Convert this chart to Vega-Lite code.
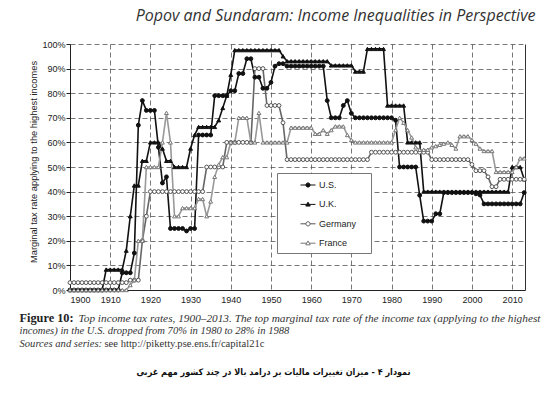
{
  "$schema": "https://vega.github.io/schema/vega-lite/v6.json",
  "width": 455,
  "height": 246,
  "autosize": {"type": "none"},
  "padding": {"left": 70, "top": 44, "right": 25, "bottom": 103},
  "background": "white",
  "view": {"stroke": null},
  "title": {
    "text": "نمودار ۴ - میزان تغییرات مالیات بر درامد بالا در چند کشور مهم غربی",
    "orient": "bottom",
    "anchor": "middle",
    "frame": "group",
    "dx": -24,
    "offset": 19,
    "font": "DejaVu Sans Condensed, DejaVu Sans",
    "fontSize": 9,
    "fontWeight": "bold",
    "color": "#111"
  },
  "data": {
    "values": [
      {"year":1900,"US":0,"UK":0,"Germany":3,"France":0},
      {"year":1901,"US":0,"UK":0,"Germany":3,"France":0},
      {"year":1902,"US":0,"UK":0,"Germany":3,"France":0},
      {"year":1903,"US":0,"UK":0,"Germany":3,"France":0},
      {"year":1904,"US":0,"UK":0,"Germany":3,"France":0},
      {"year":1905,"US":0,"UK":0,"Germany":3,"France":0},
      {"year":1906,"US":0,"UK":0,"Germany":3,"France":0},
      {"year":1907,"US":0,"UK":0,"Germany":3,"France":0},
      {"year":1908,"US":0,"UK":0,"Germany":3,"France":0},
      {"year":1909,"US":0,"UK":8.3,"Germany":3,"France":0},
      {"year":1910,"US":0,"UK":8.3,"Germany":3,"France":0},
      {"year":1911,"US":0,"UK":8.3,"Germany":3,"France":0},
      {"year":1912,"US":0,"UK":8.3,"Germany":3,"France":0},
      {"year":1913,"US":7,"UK":8.3,"Germany":3,"France":0},
      {"year":1914,"US":7,"UK":16,"Germany":3,"France":0},
      {"year":1915,"US":7,"UK":30,"Germany":4,"France":2},
      {"year":1916,"US":15,"UK":42.5,"Germany":4,"France":4},
      {"year":1917,"US":67,"UK":42.5,"Germany":4,"France":20},
      {"year":1918,"US":77,"UK":52.5,"Germany":20,"France":20},
      {"year":1919,"US":73,"UK":52.5,"Germany":30,"France":50},
      {"year":1920,"US":73,"UK":60,"Germany":40,"France":50},
      {"year":1921,"US":73,"UK":60,"Germany":40,"France":50},
      {"year":1922,"US":58,"UK":60,"Germany":40,"France":50},
      {"year":1923,"US":43.5,"UK":57.5,"Germany":40,"France":60},
      {"year":1924,"US":46,"UK":52.5,"Germany":40,"France":72},
      {"year":1925,"US":25,"UK":52.5,"Germany":40,"France":60},
      {"year":1926,"US":25,"UK":50,"Germany":40,"France":30},
      {"year":1927,"US":25,"UK":50,"Germany":40,"France":30},
      {"year":1928,"US":25,"UK":50,"Germany":40,"France":33.3},
      {"year":1929,"US":24,"UK":50,"Germany":40,"France":33.3},
      {"year":1930,"US":25,"UK":57.5,"Germany":40,"France":33.3},
      {"year":1931,"US":25,"UK":63,"Germany":40,"France":33.3},
      {"year":1932,"US":63,"UK":66.3,"Germany":40,"France":37},
      {"year":1933,"US":63,"UK":66.3,"Germany":40,"France":37},
      {"year":1934,"US":63,"UK":66.3,"Germany":50,"France":30},
      {"year":1935,"US":63,"UK":66.3,"Germany":50,"France":36},
      {"year":1936,"US":79,"UK":66.3,"Germany":50,"France":46},
      {"year":1937,"US":79,"UK":69,"Germany":50,"France":51},
      {"year":1938,"US":79,"UK":74,"Germany":50,"France":54},
      {"year":1939,"US":79,"UK":79,"Germany":60,"France":54},
      {"year":1940,"US":81,"UK":87.5,"Germany":60,"France":60},
      {"year":1941,"US":81,"UK":97.5,"Germany":60,"France":60},
      {"year":1942,"US":88,"UK":97.5,"Germany":60,"France":70},
      {"year":1943,"US":88,"UK":97.5,"Germany":60,"France":70},
      {"year":1944,"US":94,"UK":97.5,"Germany":60,"France":70},
      {"year":1945,"US":94,"UK":97.5,"Germany":60,"France":60},
      {"year":1946,"US":86.5,"UK":97.5,"Germany":90,"France":60},
      {"year":1947,"US":86.5,"UK":97.5,"Germany":90,"France":72},
      {"year":1948,"US":82,"UK":97.5,"Germany":90,"France":60},
      {"year":1949,"US":82,"UK":97.5,"Germany":75,"France":60},
      {"year":1950,"US":84.4,"UK":97.5,"Germany":75,"France":60},
      {"year":1951,"US":91,"UK":97.5,"Germany":75,"France":60},
      {"year":1952,"US":92,"UK":97.5,"Germany":75,"France":60},
      {"year":1953,"US":92,"UK":95,"Germany":68,"France":60},
      {"year":1954,"US":91,"UK":93,"Germany":53,"France":60},
      {"year":1955,"US":91,"UK":93,"Germany":53,"France":66},
      {"year":1956,"US":91,"UK":93,"Germany":53,"France":66},
      {"year":1957,"US":91,"UK":93,"Germany":53,"France":66},
      {"year":1958,"US":91,"UK":93,"Germany":53,"France":66},
      {"year":1959,"US":91,"UK":93,"Germany":53,"France":66},
      {"year":1960,"US":91,"UK":93,"Germany":53,"France":66},
      {"year":1961,"US":91,"UK":93,"Germany":53,"France":63.5},
      {"year":1962,"US":91,"UK":93,"Germany":53,"France":63.5},
      {"year":1963,"US":91,"UK":93,"Germany":53,"France":65},
      {"year":1964,"US":77,"UK":93,"Germany":53,"France":63.5},
      {"year":1965,"US":70,"UK":91.3,"Germany":53,"France":65},
      {"year":1966,"US":70,"UK":91.3,"Germany":53,"France":66.5},
      {"year":1967,"US":70,"UK":91.3,"Germany":53,"France":66.5},
      {"year":1968,"US":75,"UK":91.3,"Germany":53,"France":66.5},
      {"year":1969,"US":77,"UK":91.3,"Germany":53,"France":63},
      {"year":1970,"US":71.8,"UK":91.3,"Germany":53,"France":61},
      {"year":1971,"US":70,"UK":88.8,"Germany":53,"France":60},
      {"year":1972,"US":70,"UK":88.8,"Germany":53,"France":60},
      {"year":1973,"US":70,"UK":88.8,"Germany":53,"France":60},
      {"year":1974,"US":70,"UK":98,"Germany":53,"France":60},
      {"year":1975,"US":70,"UK":98,"Germany":56,"France":60},
      {"year":1976,"US":70,"UK":98,"Germany":56,"France":60},
      {"year":1977,"US":70,"UK":98,"Germany":56,"France":60},
      {"year":1978,"US":70,"UK":98,"Germany":56,"France":60},
      {"year":1979,"US":70,"UK":75,"Germany":56,"France":60},
      {"year":1980,"US":70,"UK":75,"Germany":56,"France":60},
      {"year":1981,"US":69,"UK":75,"Germany":56,"France":65},
      {"year":1982,"US":50,"UK":75,"Germany":56,"France":70},
      {"year":1983,"US":50,"UK":75,"Germany":56,"France":68},
      {"year":1984,"US":50,"UK":60,"Germany":56,"France":65},
      {"year":1985,"US":50,"UK":60,"Germany":56,"France":62},
      {"year":1986,"US":50,"UK":60,"Germany":56,"France":58},
      {"year":1987,"US":38.5,"UK":60,"Germany":56,"France":57},
      {"year":1988,"US":28,"UK":40,"Germany":56,"France":57},
      {"year":1989,"US":28,"UK":40,"Germany":56,"France":57},
      {"year":1990,"US":28,"UK":40,"Germany":53,"France":58},
      {"year":1991,"US":31,"UK":40,"Germany":53,"France":58.5},
      {"year":1992,"US":31,"UK":40,"Germany":53,"France":59},
      {"year":1993,"US":39.6,"UK":40,"Germany":53,"France":59.5},
      {"year":1994,"US":39.6,"UK":40,"Germany":53,"France":60},
      {"year":1995,"US":39.6,"UK":40,"Germany":53,"France":59},
      {"year":1996,"US":39.6,"UK":40,"Germany":53,"France":57.5},
      {"year":1997,"US":39.6,"UK":40,"Germany":53,"France":62.5},
      {"year":1998,"US":39.6,"UK":40,"Germany":53,"France":62.5},
      {"year":1999,"US":39.6,"UK":40,"Germany":53,"France":62.5},
      {"year":2000,"US":39.6,"UK":40,"Germany":51,"France":61},
      {"year":2001,"US":39.1,"UK":40,"Germany":48.5,"France":59.5},
      {"year":2002,"US":38.6,"UK":40,"Germany":48.5,"France":57.5},
      {"year":2003,"US":35,"UK":40,"Germany":48.5,"France":56.5},
      {"year":2004,"US":35,"UK":40,"Germany":46,"France":56.5},
      {"year":2005,"US":35,"UK":40,"Germany":42,"France":56.5},
      {"year":2006,"US":35,"UK":40,"Germany":42,"France":48},
      {"year":2007,"US":35,"UK":40,"Germany":45,"France":48},
      {"year":2008,"US":35,"UK":40,"Germany":45,"France":48},
      {"year":2009,"US":35,"UK":40,"Germany":45,"France":48},
      {"year":2010,"US":35,"UK":50,"Germany":45,"France":48},
      {"year":2011,"US":35,"UK":50,"Germany":45,"France":50},
      {"year":2012,"US":35,"UK":50,"Germany":45,"France":53.5},
      {"year":2013,"US":39.6,"UK":45,"Germany":45,"France":53.5}
    ]
  },
  "transform": [{"fold": ["US", "UK", "Germany", "France"], "as": ["series", "rate"]}],
  "layer": [
    {
      "mark": {"type": "line", "interpolate": "linear"},
      "encoding": {
        "x": {
          "field": "year", "type": "quantitative",
          "scale": {"domain": [1900, 2013.2], "nice": false, "zero": false},
          "axis": {
            "orient": "bottom",
            "values": [1900,1910,1920,1930,1940,1950,1960,1970,1980,1990,2000,2010],
            "format": "d",
            "grid": true, "gridDash": [5, 3], "gridColor": "#555", "gridWidth": 0.8,
            "domain": true, "domainColor": "#222", "domainWidth": 1,
            "ticks": false,
            "labelFont": "Liberation Sans", "labelFontSize": 9, "labelColor": "#222", "labelPadding": 5,
            "title": ["incomes) in the U.S. dropped from 70% in 1980 to 28% in 1988", "Sources and series:"],
            "titleX": -51, "titleY": 43.5,
            "titleAlign": "left", "titleBaseline": "alphabetic", "titleAngle": 0,
            "titleLineHeight": 12.5,
            "titleFont": "Liberation Serif", "titleFontStyle": "italic", "titleFontWeight": "normal",
            "titleFontSize": 10.6, "titleColor": "#333"
          }
        },
        "y": {
          "field": "rate", "type": "quantitative",
          "scale": {"domain": [0, 100], "nice": false},
          "axis": {
            "orient": "left",
            "values": [0,10,20,30,40,50,60,70,80,90,100],
            "labelExpr": "datum.value + '%'",
            "grid": true, "gridDash": [5, 3], "gridColor": "#555", "gridWidth": 0.8,
            "domain": true, "domainColor": "#222", "domainWidth": 1,
            "ticks": true, "tickSize": 4, "tickColor": "#222",
            "labelFont": "Liberation Sans", "labelFontSize": 9, "labelColor": "#222", "labelPadding": 1,
            "title": "Marginal tax rate applying to the highest incomes",
            "titleX": -37, "titleY": 117.5, "titleAngle": 270,
            "titleAlign": "center", "titleBaseline": "middle",
            "titleFont": "Liberation Sans", "titleFontSize": 9.3, "titleFontWeight": "normal", "titleColor": "#222"
          }
        },
        "color": {
          "field": "series", "type": "nominal",
          "scale": {"domain": ["UK", "US", "Germany", "France"], "range": ["#111", "#111", "#666", "#999"]},
          "legend": null
        },
        "strokeWidth": {
          "field": "series", "type": "nominal",
          "scale": {"domain": ["UK", "US", "Germany", "France"], "range": [1.6, 1.6, 1, 1]},
          "legend": null
        }
      }
    },
    {
      "mark": {"type": "point", "size": 15, "strokeWidth": 1, "opacity": 1},
      "encoding": {
        "x": {
          "field": "year", "type": "quantitative",
          "axis": {
            "orient": "top", "labels": false, "ticks": false, "domain": false, "grid": false,
            "title": "Popov and Sundaram: Income Inequalities in Perspective",
            "titleX": 465, "titleY": -24, "titleAlign": "right", "titleBaseline": "alphabetic", "titleAngle": 0,
            "titleFont": "Open Sans", "titleFontStyle": "italic", "titleFontWeight": "normal",
            "titleFontSize": 16, "titleColor": "#333"
          }
        },
        "y": {
          "field": "rate", "type": "quantitative",
          "axis": {
            "orient": "right", "labels": false, "ticks": false, "grid": false,
            "domain": true, "domainColor": "#333", "domainWidth": 1,
            "title": "Figure 10:",
            "titleX": -506, "titleY": 277, "titleAngle": 0,
            "titleAlign": "left", "titleBaseline": "alphabetic",
            "titleFont": "Liberation Serif", "titleFontWeight": "bold", "titleFontSize": 12.3, "titleColor": "#222"
          }
        },
        "shape": {
          "field": "series", "type": "nominal",
          "scale": {"domain": ["UK", "US", "Germany", "France"], "range": ["triangle-up", "circle", "circle", "triangle-up"]},
          "legend": null
        },
        "fill": {
          "field": "series", "type": "nominal",
          "scale": {"domain": ["UK", "US", "Germany", "France"], "range": ["#111", "#111", "#fff", "#fff"]},
          "legend": null
        },
        "stroke": {
          "field": "series", "type": "nominal",
          "scale": {"domain": ["UK", "US", "Germany", "France"], "range": ["#111", "#111", "#555", "#777"]},
          "legend": null
        }
      }
    },
    {
      "transform": [{"filter": "false"}],
      "mark": {"type": "point", "opacity": 1, "strokeWidth": 1},
      "encoding": {
        "x": {
          "field": "year", "type": "quantitative",
          "axis": {
            "orient": "top", "labels": false, "ticks": false, "domain": false, "grid": false,
            "title": "Top income tax rates, 1900\u20132013. The top marginal tax rate of the income tax (applying to the highest",
            "titleX": 8, "titleY": 277, "titleAlign": "left", "titleBaseline": "alphabetic", "titleAngle": 0,
            "titleFont": "Liberation Serif", "titleFontStyle": "italic", "titleFontWeight": "normal",
            "titleFontSize": 11.3, "titleColor": "#333"
          }
        },
        "y": {
          "field": "rate", "type": "quantitative",
          "axis": {
            "orient": "right", "labels": false, "ticks": false, "domain": false, "grid": false,
            "title": "see http://piketty.pse.ens.fr/capital21c",
            "titleX": -421, "titleY": 302, "titleAngle": 0,
            "titleAlign": "left", "titleBaseline": "alphabetic",
            "titleFont": "Liberation Serif", "titleFontStyle": "normal", "titleFontWeight": "normal",
            "titleFontSize": 10.6, "titleColor": "#333"
          }
        },
        "shape": {
          "field": "series", "type": "nominal",
          "scale": {
            "domain": ["US", "UK", "Germany", "France"],
            "range": [
              "M-1,0H-0.28M0.28,0H1M0.28,0A0.28,0.28,0,1,1,-0.28,0A0.28,0.28,0,1,1,0.28,0Z",
              "M-1,0H-0.17M0.17,0H1M0,-0.3L0.3,0.22L-0.3,0.22Z",
              "M-1,0H-0.28M0.28,0H1M0.28,0A0.28,0.28,0,1,1,-0.28,0A0.28,0.28,0,1,1,0.28,0Z",
              "M-1,0H-0.17M0.17,0H1M0,-0.3L0.3,0.22L-0.3,0.22Z"
            ]
          },
          "legend": {
            "title": null, "orient": "none", "legendX": 207, "legendY": 129,
            "padding": 4, "strokeColor": "#777", "fillColor": "#fff",
            "symbolOffset": 19, "labelOffset": 3, "rowPadding": 6.4,
            "symbolSize": 225, "symbolStrokeWidth": 1, "symbolOpacity": 1,
            "labelFont": "Liberation Sans", "labelFontSize": 9, "labelColor": "#222",
            "labelExpr": "(datum.label == 'US' ? 'U.S.' : datum.label == 'UK' ? 'U.K.' : datum.label) + '\u00a0\u00a0\u00a0\u00a0\u200b'"
          }
        },
        "fill": {
          "field": "series", "type": "nominal",
          "scale": {"domain": ["US", "UK", "Germany", "France"], "range": ["#111", "#111", "#fff", "#fff"]},
          "legend": {
            "title": null, "orient": "none", "legendX": 207, "legendY": 129,
            "padding": 4, "strokeColor": "#777", "fillColor": "#fff",
            "symbolOffset": 19, "labelOffset": 3, "rowPadding": 6.4,
            "symbolSize": 225, "symbolStrokeWidth": 1, "symbolOpacity": 1,
            "labelFont": "Liberation Sans", "labelFontSize": 9, "labelColor": "#222",
            "labelExpr": "(datum.label == 'US' ? 'U.S.' : datum.label == 'UK' ? 'U.K.' : datum.label) + '\u00a0\u00a0\u00a0\u00a0\u200b'"
          }
        },
        "stroke": {
          "field": "series", "type": "nominal",
          "scale": {"domain": ["US", "UK", "Germany", "France"], "range": ["#111", "#111", "#555", "#777"]},
          "legend": {
            "title": null, "orient": "none", "legendX": 207, "legendY": 129,
            "padding": 4, "strokeColor": "#777", "fillColor": "#fff",
            "symbolOffset": 19, "labelOffset": 3, "rowPadding": 6.4,
            "symbolSize": 225, "symbolStrokeWidth": 1, "symbolOpacity": 1,
            "labelFont": "Liberation Sans", "labelFontSize": 9, "labelColor": "#222",
            "labelExpr": "(datum.label == 'US' ? 'U.S.' : datum.label == 'UK' ? 'U.K.' : datum.label) + '\u00a0\u00a0\u00a0\u00a0\u200b'"
          }
        }
      }
    }
  ],
  "resolve": {
    "axis": {"x": "independent", "y": "independent"},
    "scale": {"shape": "independent", "fill": "independent", "stroke": "independent"}
  }
}
